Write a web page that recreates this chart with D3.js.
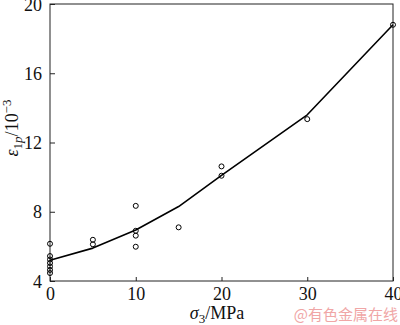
<!DOCTYPE html>
<html>
<head>
<meta charset="utf-8">
<script src="https://cdn.jsdelivr.net/npm/d3@7"></script>
<style>
  html, body { margin: 0; padding: 0; background: #fff; }
  svg { display: block; }
  text { font-family: "Liberation Serif", "Times New Roman", serif; fill: #111; }
</style>
</head>
<body>
<svg id="chart" width="400" height="325"></svg>
<script>
// Measured points: confining pressure (MPa) vs. axial plastic strain (10^-3)
const stress = [0, 0, 0, 0, 0, 0, 0, 5, 5, 10, 10, 10, 10, 15, 20, 20, 30, 40];
const strain = [6.15, 5.44, 5.24, 5.04, 4.84, 4.64, 4.46, 6.38, 6.12, 8.34, 6.9, 6.62, 5.98, 7.1, 10.62, 10.08, 13.35, 18.8];

// Fitted curve
const fitStress = [0, 5, 10, 15, 20, 30, 40];
const fitStrain = [5.2, 5.9, 6.95, 8.3, 10.1, 13.6, 18.8];

// Axis ticks
const xTicks = [0, 10, 20, 30, 40];
const yTicks = [4, 8, 12, 16, 20];

const serif = "'Liberation Serif', 'Times New Roman', serif";
const svg = d3.select("#chart");
const plot = { left: 50, right: 393, top: 4, bottom: 281 };

const x = d3.scaleLinear().domain([0, 40]).range([plot.left, plot.right]);
const y = d3.scaleLinear().domain([4, 20]).range([plot.bottom, plot.top]);

// Frame
svg.append("rect")
  .attr("x", plot.left).attr("y", plot.top)
  .attr("width", plot.right - plot.left).attr("height", plot.bottom - plot.top)
  .attr("fill", "none").attr("stroke", "#222").attr("stroke-width", 1);

// Bottom axis, ticks pointing inward
const gx = svg.append("g").attr("transform", `translate(0,${plot.bottom})`)
  .call(d3.axisBottom(x).tickValues(xTicks).tickSizeInner(-4).tickSizeOuter(0))
  .attr("font-family", serif).attr("font-size", 18);
gx.select(".domain").remove();
gx.selectAll(".tick line").attr("stroke", "#222");
gx.selectAll(".tick text")
  .attr("y", 19).attr("dy", 0)
  .style("font-family", serif).style("font-size", "18px").style("fill", "#111");

// Left axis, ticks pointing inward
const gy = svg.append("g").attr("transform", `translate(${plot.left},0)`)
  .call(d3.axisLeft(y).tickValues(yTicks).tickSizeInner(-5).tickSizeOuter(0))
  .attr("font-family", serif).attr("font-size", 18);
gy.select(".domain").remove();
gy.selectAll(".tick line").attr("stroke", "#222");
gy.selectAll(".tick text")
  .attr("x", -8).attr("dy", "0.34em")
  .style("font-family", serif).style("font-size", "18px").style("fill", "#111");

// Fitted curve
const line = d3.line()
  .x((d, i) => x(fitStress[i]))
  .y(d => y(d));
svg.append("path")
  .datum(fitStrain)
  .attr("d", line)
  .attr("fill", "none")
  .attr("stroke", "#000")
  .attr("stroke-width", 1.6)
  .attr("stroke-linejoin", "round");

// Data points
svg.append("g").selectAll("circle")
  .data(strain)
  .join("circle")
  .attr("cx", (d, i) => x(stress[i]))
  .attr("cy", d => y(d))
  .attr("r", 2.5)
  .attr("fill", "none")
  .attr("stroke", "#000")
  .attr("stroke-width", 1);

// X axis title: σ3/MPa
const xt = svg.append("text")
  .attr("x", 217).attr("y", 319)
  .attr("text-anchor", "middle")
  .style("font-family", serif)
  .style("font-size", "18px");
xt.append("tspan").style("font-style", "italic").text("σ");
xt.append("tspan").attr("dy", 4).style("font-size", "13px").text("3");
xt.append("tspan").attr("dy", -4).text("/MPa");

// Y axis title: ε1p/10^-3
const yt = svg.append("text")
  .attr("transform", "translate(18,128) rotate(-90)")
  .attr("text-anchor", "middle")
  .style("font-family", serif)
  .style("font-size", "18px");
yt.append("tspan").style("font-style", "italic").text("ε");
yt.append("tspan").attr("dy", 4).style("font-size", "13px").text("1");
yt.append("tspan").style("font-size", "13px").style("font-style", "italic").text("p");
yt.append("tspan").attr("dy", -4).text("/10");
yt.append("tspan").attr("dy", -7).style("font-size", "13px").text("−3");

// Source mark
svg.append("text")
  .attr("x", 398).attr("y", 320)
  .attr("text-anchor", "end")
  .style("font-family", "'Noto Sans CJK SC', sans-serif")
  .style("font-size", "15px")
  .style("fill", "#f0a6a6")
  .text("@有色金属在线");
</script>
</body>
</html>
